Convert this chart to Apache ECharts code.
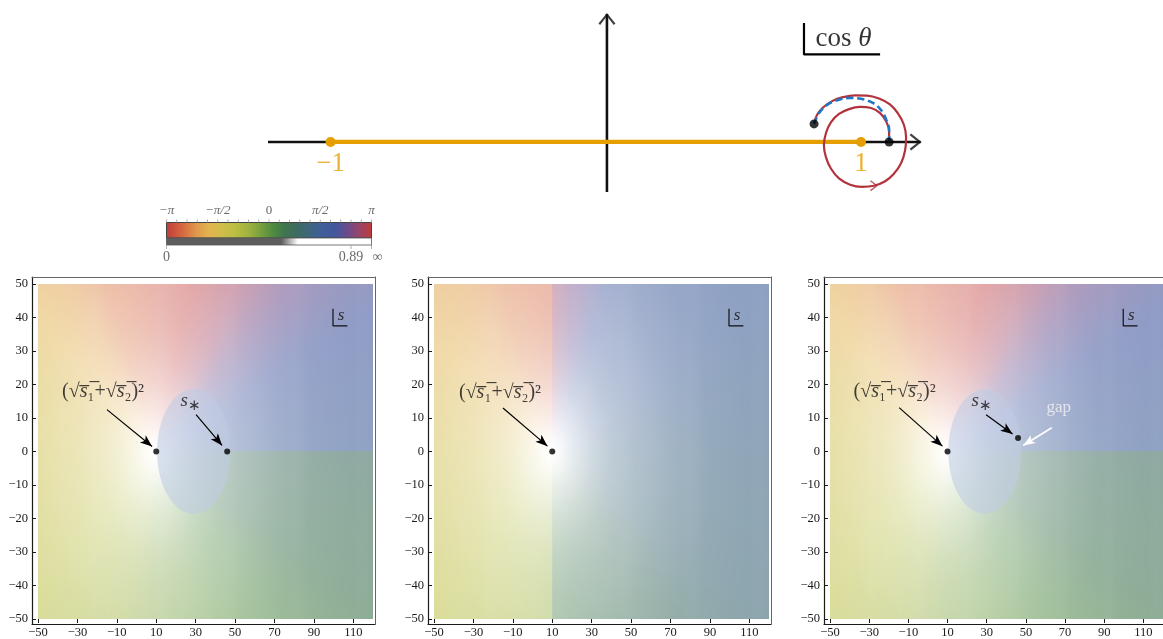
<!DOCTYPE html>
<html>
<head>
<meta charset="utf-8">
<script src="https://cdn.jsdelivr.net/npm/echarts@6.0.0/dist/echarts.min.js"></script>
<style>
html,body{margin:0;padding:0;background:#ffffff;}
#chart{width:1163px;height:639px;}
</style>
</head>
<body>
<div id="chart"></div>
<script>
// ================= data =================
const xTicks = [-50, -30, -10, 10, 30, 50, 70, 90, 110];
const yTicks = [-50, -40, -30, -20, -10, 0, 10, 20, 30, 40, 50];
const phaseTickLabels = ['−π', '−π/2', '0', 'π/2', 'π'];
const magTickLabels = ['0', '0.89', '∞'];
const magTickPos = [0, 0.9, 1];

// cos θ plane (top diagram)
const realSegment = [[-1, 0], [1, 0]];
const realAxis = [[-1.236, 0], [1.225, 0]];
const imagAxis = [[0.042, -0.189], [0.042, 0.483]];
const contourRed = [
  [0.823, 0.068], [0.834, 0.102], [0.857, 0.130], [0.891, 0.154], [0.932, 0.169],
  [0.977, 0.176], [1.023, 0.175], [1.068, 0.164], [1.109, 0.142], [1.140, 0.107],
  [1.162, 0.064], [1.170, 0.017], [1.166, -0.033], [1.151, -0.080], [1.124, -0.120],
  [1.091, -0.148], [1.049, -0.165], [1.004, -0.169], [0.959, -0.161], [0.917, -0.137],
  [0.887, -0.101], [0.868, -0.058], [0.860, -0.011], [0.868, 0.034], [0.887, 0.075],
  [0.917, 0.106], [0.955, 0.124], [0.996, 0.132], [1.038, 0.128], [1.072, 0.109],
  [1.094, 0.079], [1.106, 0.041], [1.106, 0.000]
];
const contourBlue = [
  [0.823, 0.068], [0.842, 0.109], [0.872, 0.140], [0.913, 0.158], [0.958, 0.166],
  [1.004, 0.162], [1.045, 0.147], [1.075, 0.121], [1.094, 0.087], [1.106, 0.045], [1.106, 0.0]
];
const contourEnds = [[0.823, 0.068], [1.106, 0]];
const contourArrowIndex = 16;

// colour wheel of the legend: phase fraction from −π (0) to π (1)
const wheelPos = [0, 0.08, 0.15, 0.21, 0.27, 0.33, 0.40, 0.46, 0.52, 0.58, 0.64, 0.70, 0.75, 0.82, 0.88, 0.94, 1];
const wheelCol = ['#c03c3c', '#d6683f', '#e09a4c', '#e2b450', '#d0bd4a', '#bcbf44', '#9fb23f', '#78a03e',
                  '#4f8a40', '#3f7450', '#3d6a62', '#3e6680', '#3f5f98', '#42579e', '#6a4c8c', '#9a4468', '#c03c3c'];

// s-plane panels: phase (units of π) read around the branch point, and whitening vs distance
const branchPoint = [10, 0];
const p1Angle = [0, 24, 36, 51, 70, 90, 117, 140, 157, 180, 220, 248, 270, 292, 320, 336, 360];
const p1Phase = [0.5, 0.66, 0.76, 0.9, 1.0, -0.92, -0.8, -0.62, -0.52, -0.44, -0.32, -0.2, -0.1, -0.04, 0.06, 0.16, 0.26];
const p2LeftAngle = [90, 117, 140, 160, 180, 220, 250, 270];
const p2LeftPhase = [-0.88, -0.78, -0.64, -0.54, -0.46, -0.34, -0.24, -0.16];
const p2RightAngle = [-90, -45, -24, 0, 24, 51, 68, 88, 90];
const p2RightPhase = [0.1, 0.24, 0.36, 0.42, 0.5, 0.56, 0.7, 0.86, 0.88];
const fadeDist = [0, 5, 10, 20, 30, 40, 50, 60, 80, 100, 130];
const fadeAmount = [1, 0.95, 0.88, 0.76, 0.67, 0.61, 0.57, 0.52, 0.45, 0.42, 0.39];
const cutStart = [46, null, 47];
const discCenter = [29, 0];
const discRadius = 18.6;
const p1Points = [[10, 0], [46, 0]];
const p2Points = [[10, 0]];
const p3Points = [[10, 0], [46, 4]];

// ================= helpers =================
function interp(xs, ys, x) {
  if (x <= xs[0]) return ys[0];
  for (let i = 1; i < xs.length; i++) {
    if (x <= xs[i]) {
      const t = (x - xs[i - 1]) / (xs[i] - xs[i - 1]);
      return ys[i - 1] + t * (ys[i] - ys[i - 1]);
    }
  }
  return ys[ys.length - 1];
}
function unwrap(ph) {
  const out = [ph[0]];
  for (let i = 1; i < ph.length; i++) {
    let d = ph[i] - ph[i - 1];
    while (d > 1) d -= 2;
    while (d < -1) d += 2;
    out.push(out[i - 1] + d);
  }
  return out;
}
const p1U = unwrap(p1Phase), p2LU = unwrap(p2LeftPhase), p2RU = unwrap(p2RightPhase);
function hexToRgb(h) { const n = parseInt(h.slice(1), 16); return [(n >> 16) & 255, (n >> 8) & 255, n & 255]; }
const wheelRgb = wheelCol.map(hexToRgb);
function wheel(ph) {
  let f = ((ph + 1) / 2) % 1; if (f < 0) f += 1;
  for (let i = 1; i < wheelPos.length; i++) {
    if (f <= wheelPos[i]) {
      const t = (f - wheelPos[i - 1]) / (wheelPos[i] - wheelPos[i - 1]);
      return [0, 1, 2].map(k => wheelRgb[i - 1][k] + t * (wheelRgb[i][k] - wheelRgb[i - 1][k]));
    }
  }
  return wheelRgb[wheelRgb.length - 1];
}
function phaseAt(panel, x, y, side) {
  const dx = x - branchPoint[0];
  const dy = (y === 0 ? side * 1e-7 : y - branchPoint[1]);
  let th = Math.atan2(dy, dx) * 180 / Math.PI;
  if (panel !== 1) { if (th < 0) th += 360; return interp(p1Angle, p1U, th); }
  if (x < branchPoint[0]) { if (th < 0) th += 360; return interp(p2LeftAngle, p2LU, th); }
  return interp(p2RightAngle, p2RU, th);
}
function rgbAt(panel, x, y, side) {
  const r = Math.hypot(x - branchPoint[0], y - branchPoint[1]);
  const fd = interp(fadeDist, fadeAmount, r);
  const c = wheel(phaseAt(panel, x, y, side));
  return c.map(v => v + (255 - v) * fd);
}
function css(c) { return 'rgb(' + c.map(v => Math.round(v)).join(',') + ')'; }

function fieldRender(panel) {
  return function (params, api) {
    const children = [];
    const n = 340, x0a = -50, x1a = 120, dx = (x1a - x0a) / n;
    for (let i = 0; i < n; i++) {
      const x0 = x0a + i * dx, x1 = x0 + dx, xm = x0 + dx / 2;
      const pa = api.coord([x0, 50]), pb = api.coord([x1, -50]);
      const stops = [];
      for (let j = 0; j <= 40; j++) {
        const y = 50 - j * 2.5, off = j / 40;
        if (j === 20 && panel !== 1 && xm > branchPoint[0]) {
          const up = rgbAt(panel, xm, 0, 1), lo = rgbAt(panel, xm, 0, -1);
          if (xm > cutStart[panel]) {
            stops.push({ offset: off, color: css(up) });
            stops.push({ offset: off, color: css(lo) });
          } else {
            stops.push({ offset: off, color: css(up.map((v, k) => (v + lo[k]) / 2)) });
          }
        } else {
          stops.push({ offset: off, color: css(rgbAt(panel, xm, y, 1)) });
        }
      }
      children.push({
        type: 'rect',
        shape: { x: pa[0], y: pa[1], width: pb[0] - pa[0] + 0.7, height: pb[1] - pa[1] },
        style: { fill: { type: 'linear', x: 0, y: 0, x2: 0, y2: 1, colorStops: stops } }
      });
    }
    return { type: 'group', children: children };
  };
}

function discRender(params, api) {
  const c = api.coord([api.value(0), api.value(1)]);
  const rx = api.size([api.value(2), 0])[0];
  const ry = api.size([0, api.value(2)])[1];
  return {
    type: 'ellipse',
    shape: { cx: c[0], cy: c[1], rx: rx, ry: ry },
    style: { fill: 'rgba(192,204,228,0.58)' }
  };
}

const SERIF = 'Liberation Serif';
const richMath = {
  n: { fontSize: 20, fontFamily: SERIF, color: '#111' },
  i: { fontSize: 20, fontFamily: SERIF, fontStyle: 'italic', color: '#111' },
  si: { fontSize: 19, fontFamily: SERIF, fontStyle: 'italic', color: '#111' },
  st: { fontSize: 15, fontFamily: SERIF, color: '#111', padding: [9, 0, 0, 0] },
  w: { fontSize: 17, fontFamily: SERIF, color: '#f2f2f2' },
  lab: { fontSize: 17, fontFamily: SERIF, fontStyle: 'italic', color: '#111' }
};
const formulaText = '{n|(√}{i|s̅}{n|₁̅+√}{i|s̅}{n|₂̅)²}';
const sStarText = '{si|s}{st|∗}';
const minus = v => (v < 0 ? '−' + (-v) : '' + v);

// ================= layout =================
const panelLeft = [38, 434, 830];
const grids = [{ left: 264.3, top: 9.4, width: 663, height: 185.6 }];
panelLeft.forEach(l => grids.push({ left: l - 6, top: 277, width: 343, height: 347 }));
panelLeft.forEach(l => grids.push({ left: l, top: 284, width: 335, height: 336 }));

const xAxes = [{ gridIndex: 0, type: 'value', min: -1.25, max: 1.25, show: false }];
const yAxes = [{ gridIndex: 0, type: 'value', min: -0.2, max: 0.5, show: false }];
function frameAxis(gi, pos, color, width) {
  return {
    gridIndex: gi, type: 'value', min: 0, max: 1, position: pos,
    axisLine: { show: true, onZero: false, lineStyle: { color: color, width: width } },
    axisTick: { show: false }, axisLabel: { show: false }, splitLine: { show: false }
  };
}
[1, 2, 3].forEach(g => xAxes.push(frameAxis(g, 'bottom', '#1a1a1a', 1.2)));
[1, 2, 3].forEach(g => xAxes.push(frameAxis(g, 'top', '#666', 1)));
[1, 2, 3].forEach(g => yAxes.push(frameAxis(g, 'left', '#1a1a1a', 1.2)));
[1, 2, 3].forEach(g => yAxes.push(frameAxis(g, 'right', '#666', 1)));
[4, 5, 6].forEach(g => {
  xAxes.push({
    gridIndex: g, type: 'value', min: -50, max: 120, position: 'bottom', offset: 4,
    axisLine: { show: false, onZero: false },
    axisTick: { show: true, inside: true, length: 4, customValues: xTicks, lineStyle: { color: '#1a1a1a' } },
    axisLabel: { show: true, customValues: xTicks, margin: 3, formatter: minus, fontFamily: SERIF, fontSize: 12.5, color: '#1a1a1a' },
    splitLine: { show: false }
  });
  yAxes.push({
    gridIndex: g, type: 'value', min: -50, max: 50, interval: 10, position: 'left', offset: 6,
    axisLine: { show: false, onZero: false },
    axisTick: { show: true, inside: true, length: 4, lineStyle: { color: '#1a1a1a' } },
    axisLabel: { show: true, margin: 4, formatter: minus, fontFamily: SERIF, fontSize: 12.5, color: '#1a1a1a' },
    splitLine: { show: false }
  });
});

const chevron = 'path://M10,0 L20,11 L18,12.5 L10,3.6 L2,12.5 L0,11 Z';
const series = [];

// ---- top diagram ----
series.push({ type: 'line', xAxisIndex: 0, yAxisIndex: 0, data: realAxis, symbol: 'none', silent: true, z: 2,
  lineStyle: { color: '#111', width: 2.6 } });
series.push({ type: 'line', xAxisIndex: 0, yAxisIndex: 0, data: imagAxis, symbol: 'none', silent: true, z: 2,
  lineStyle: { color: '#111', width: 2.6 } });
series.push({ type: 'scatter', xAxisIndex: 0, yAxisIndex: 0, silent: true, z: 3, symbol: chevron, symbolSize: [17, 12],
  itemStyle: { color: '#111' },
  data: [
    { value: realAxis[1], symbolRotate: -90, symbolOffset: [-5, 0] },
    { value: imagAxis[1], symbolRotate: 0, symbolOffset: [0, 5] }
  ] });
series.push({ type: 'line', xAxisIndex: 0, yAxisIndex: 0, data: realSegment, silent: true, z: 4,
  symbol: 'circle', symbolSize: 10, showSymbol: true,
  lineStyle: { color: '#E69F00', width: 4.2 }, itemStyle: { color: '#E69F00' } });
series.push({ type: 'line', xAxisIndex: 0, yAxisIndex: 0, data: contourRed, silent: true, z: 5, smooth: 0.4,
  symbol: 'none', lineStyle: { color: '#b3333c', width: 2.2 } });
series.push({ type: 'line', xAxisIndex: 0, yAxisIndex: 0, data: contourBlue, silent: true, z: 6, smooth: 0.4,
  symbol: 'none', lineStyle: { color: '#1f77c4', width: 2.6, type: [7, 4] } });
series.push({ type: 'scatter', xAxisIndex: 0, yAxisIndex: 0, silent: true, z: 7, symbol: chevron, symbolSize: [11, 8],
  itemStyle: { color: '#b3333c' },
  data: [{ value: contourRed[contourArrowIndex], symbolRotate: -90 }] });
series.push({ type: 'scatter', xAxisIndex: 0, yAxisIndex: 0, silent: true, z: 8, symbolSize: 9,
  itemStyle: { color: '#000' }, data: contourEnds });
series.push({ type: 'line', xAxisIndex: 0, yAxisIndex: 0, silent: true, z: 3, symbol: 'none',
  lineStyle: { color: '#000', width: 2.2 },
  data: [[0.785, 0.449], [0.785, 0.33], [1.072, 0.33]] });
series.push({ type: 'scatter', xAxisIndex: 0, yAxisIndex: 0, silent: true, z: 9, symbolSize: 1,
  itemStyle: { color: 'rgba(0,0,0,0)' },
  data: [
    { value: [-1, -0.082], label: { show: true, position: 'inside', formatter: '−1', fontFamily: SERIF, fontSize: 27, color: '#E69F00' } },
    { value: [1, -0.082], label: { show: true, position: 'inside', formatter: '1', fontFamily: SERIF, fontSize: 27, color: '#E69F00' } },
    { value: [0.934, 0.39], label: { show: true, position: 'inside', formatter: '{a|cos }{b|θ}',
        rich: { a: { fontFamily: SERIF, fontSize: 27, color: '#000' }, b: { fontFamily: SERIF, fontSize: 27, fontStyle: 'italic', color: '#000' } } } }
  ] });

// ---- s-plane panels ----
const panelPoints = [p1Points, p2Points, p3Points];
const panelArrows = [
  [[[-15, 12.5], [7.9, 1.5]], [[30.2, 11], [43.4, 1.8]]],
  [[[-15, 13], [7.6, 1.6]]],
  [[[-14.7, 13.1], [7.4, 1.6]], [[29.7, 11], [43.2, 5.2]]]
];
const panelTexts = [
  [{ pos: [-17, 17.8], text: formulaText }, { pos: [27.5, 15], text: sStarText }],
  [{ pos: [-16.5, 17.4], text: formulaText }],
  [{ pos: [-17, 17.8], text: formulaText }, { pos: [27.5, 15], text: sStarText }, { pos: [66.8, 13.1], text: '{w|gap}' }]
];
const sBracket = [[99.7, 42.6], [99.7, 37.5], [107, 37.5]];

[0, 1, 2].forEach(k => {
  const ai = 7 + k;
  series.push({ type: 'custom', xAxisIndex: ai, yAxisIndex: ai, silent: true, z: 1, clip: true,
    renderItem: fieldRender(k), data: [[35, 0]] });
  if (k !== 1) {
    series.push({ type: 'custom', xAxisIndex: ai, yAxisIndex: ai, silent: true, z: 2, clip: true,
      renderItem: discRender, data: [[discCenter[0], discCenter[1], discRadius]] });
  }
  const mlData = panelArrows[k].map(a => [{ coord: a[0] }, { coord: a[1] }]);
  if (k === 2) {
    mlData.push([{ coord: [63.2, 7.1], lineStyle: { color: '#ffffff', width: 1.6 } }, { coord: [48.6, 1.8] }]);
  }
  series.push({ type: 'scatter', xAxisIndex: ai, yAxisIndex: ai, silent: true, z: 5, symbolSize: 6,
    itemStyle: { color: '#000' }, data: panelPoints[k],
    markLine: { silent: true, animation: false, symbol: ['none', 'arrow'], symbolSize: [7, 12],
      label: { show: false }, lineStyle: { color: '#000', width: 1.2, type: 'solid' }, emphasis: { disabled: true },
      data: mlData } });
  series.push({ type: 'scatter', xAxisIndex: ai, yAxisIndex: ai, silent: true, z: 6, symbolSize: 1,
    itemStyle: { color: 'rgba(0,0,0,0)' },
    data: panelTexts[k].map(t => ({ value: t.pos, label: { show: true, position: 'inside', formatter: t.text, rich: richMath } })).concat([
      { value: [103.8, 40.5], label: { show: true, position: 'inside', formatter: '{lab|s}', rich: richMath } }
    ]) });
  series.push({ type: 'line', xAxisIndex: ai, yAxisIndex: ai, silent: true, z: 6, symbol: 'none',
    lineStyle: { color: '#111', width: 1.2 }, data: sBracket });
});

// ---- legend (colour wheel + magnitude bar) ----
const barX = 166.5, barW = 205, barY = 222.5, barH = 15.5;
const graphic = [];
graphic.push({ type: 'rect', shape: { x: barX, y: barY, width: barW, height: barH },
  style: { fill: { type: 'linear', x: 0, y: 0, x2: 1, y2: 0, colorStops: wheelPos.map((p, i) => ({ offset: p, color: wheelCol[i] })) },
           stroke: '#444', lineWidth: 1 } });
graphic.push({ type: 'rect', shape: { x: barX, y: barY + barH, width: barW, height: 7 },
  style: { fill: { type: 'linear', x: 0, y: 0, x2: 1, y2: 0, colorStops: [
    { offset: 0, color: '#5e5e5e' }, { offset: 0.56, color: '#5e5e5e' }, { offset: 0.64, color: '#ffffff' }, { offset: 1, color: '#ffffff' }] },
    stroke: '#555', lineWidth: 0.8 } });
for (let i = 0; i <= 20; i++) {
  const x = barX + i * barW / 20;
  graphic.push({ type: 'line', shape: { x1: x, y1: barY - 3, x2: x, y2: barY }, style: { stroke: '#999', lineWidth: 0.8 } });
}
phaseTickLabels.forEach((t, i) => {
  graphic.push({ type: 'text', x: barX + i * barW / 4, y: 211,
    style: { text: t, fontFamily: SERIF, fontSize: 13, fontStyle: t === '0' ? 'normal' : 'italic', fill: '#6a6a6a', align: 'center', verticalAlign: 'middle' } });
});
magTickLabels.forEach((t, i) => {
  const x = barX + magTickPos[i] * barW;
  graphic.push({ type: 'line', shape: { x1: x, y1: barY + barH + 7, x2: x, y2: barY + barH + 11 }, style: { stroke: '#999', lineWidth: 0.8 } });
  graphic.push({ type: 'text', x: x + (i === 2 ? 6 : 0), y: 257,
    style: { text: t, fontFamily: SERIF, fontSize: 14, fill: '#6a6a6a', align: 'center', verticalAlign: 'middle' } });
});

const chart = echarts.init(document.getElementById('chart'), null, { renderer: 'canvas' });
chart.setOption({
  animation: false,
  backgroundColor: '#ffffff',
  textStyle: { fontFamily: SERIF },
  grid: grids,
  xAxis: xAxes,
  yAxis: yAxes,
  graphic: graphic,
  series: series
});
</script>
</body>
</html>
